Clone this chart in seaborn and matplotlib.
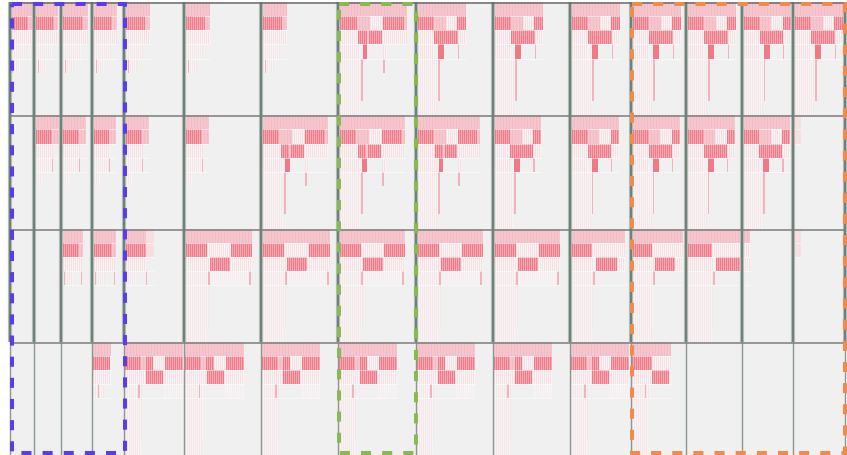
import numpy as np
import matplotlib
matplotlib.use("Agg")
import matplotlib.pyplot as plt
from matplotlib.colors import ListedColormap
from matplotlib.patches import Rectangle
import seaborn as sns

# ---- grid of panels -------------------------------------------------------
col_edges = [10, 34, 61, 92, 124, 184, 261, 338, 416, 493, 570, 631, 686, 742, 793, 845]
row_edges = [3, 116, 230, 343, 456]
LEVELS = 8

# ---- icicles: one per panel (panel row, panel column, span in leaves, shape)
ic_row = [0, 0, 0, 0, 0, 0, 0, 0, 0, 0, 0, 0, 0, 0, 0,
          1, 1, 1, 1, 1, 1, 1, 1, 1, 1, 1, 1, 1, 1,
          2, 2, 2, 2, 2, 2, 2, 2, 2, 2, 2, 2,
          3, 3, 3, 3, 3, 3, 3, 3, 3]
ic_col = [0, 1, 2, 3, 4, 5, 6, 7, 8, 9, 10, 11, 12, 13, 14,
          1, 2, 3, 4, 5, 6, 7, 8, 9, 10, 11, 12, 13, 14,
          2, 3, 4, 5, 6, 7, 8, 9, 10, 11, 12, 14,
          3, 4, 5, 6, 7, 8, 9, 10, 11]
ic_span = [23, 22, 25, 23, 24, 24, 24, 67, 48, 48, 48, 48, 48, 47, 48,
           23, 23, 22, 23, 23, 65, 65, 62, 46, 47, 47, 47, 46, 6,
           20, 22, 28, 66, 67, 65, 65, 65, 53, 50, 62, 6,
           18, 58, 59, 58, 58, 58, 58, 58, 39]
ic_shape = ["S", "S", "S", "S", "S", "S", "S", "AW", "A", "A", "A", "A", "A", "A", "A",
            "S1", "S1", "S1", "S1", "S1", "AW", "AW", "AW", "A", "A", "A", "A", "A", "SL",
            "S2", "S2", "C", "B", "B", "B", "B", "B", "B2", "B2", "B2", "SL",
            "S3", "B3", "B3", "B3", "B3", "B3", "B3", "B3", "B4"]

# per-level segments (start, end as share of the span, fill kind)
SHAPES = {
    "S": [[(0, 1, "L")],
          [(0, 0.8, "R"), (0.8, 1, "L")],
          [(0, 1, "F")],
          [(0, 0.72, "F2")],
          [(0, 0.45, "F2"), (0.08, 0.12, "P")],
          [], [], []],
    "S1": [[(0, 1, "L")],
           [(0, 0.7, "R"), (0.7, 1, "L")],
           [(0, 0.75, "F")],
           [(0, 0.72, "F2"), (0.7, 0.74, "P")],
           [(0, 0.25, "F2")],
           [], [], []],
    "S2": [[(0, 1, "L")],
           [(0, 0.82, "R"), (0.82, 1, "L")],
           [(0, 0.95, "F")],
           [(0.1, 0.5, "F2"), (0.03, 0.08, "P"), (0.9, 0.95, "P")],
           [], [], [], []],
    "S3": [[(0, 1, "L")],
           [(0, 0.95, "R")],
           [(0, 1, "F")],
           [(0, 0.6, "F2"), (0.28, 0.34, "P")],
           [], [], [], []],
    "C": [[(0, 0.72, "L"), (0.72, 1, "Lw")],
          [(0, 0.72, "R"), (0.72, 1, "Lw")],
          [(0, 0.72, "F")],
          [(0, 0.35, "F2"), (0.7, 0.74, "P")],
          [], [], [], []],
    "SL": [[(0, 1, "Lw")],
           [(0, 1, "Lw")],
           [], [], [], [], [], []],
    "A": [[(0, 1, "L")],
          [(0, 0.33, "R"), (0.33, 0.58, "L"), (0.58, 0.82, "F"), (0.82, 1, "R")],
          [(0, 0.33, "F"), (0.33, 0.83, "R"), (0.83, 1, "F")],
          [(0, 0.33, "F"), (0.42, 0.55, "B"), (0.83, 0.86, "P")],
          [(0, 0.42, "F2"), (0.42, 0.45, "P")],
          [(0, 0.42, "F2"), (0.42, 0.45, "P")],
          [(0, 0.42, "F2"), (0.42, 0.45, "P")],
          [(0, 0.4, "F2")]],
    "AW": [[(0, 1, "L")],
           [(0, 0.25, "R"), (0.25, 0.45, "L"), (0.45, 0.64, "F"), (0.64, 0.95, "R"), (0.95, 1, "L")],
           [(0, 0.27, "F"), (0.27, 0.4, "R"), (0.4, 0.43, "L"), (0.43, 0.63, "R"), (0.63, 1, "F")],
           [(0, 0.3, "F"), (0.34, 0.41, "B"), (0.64, 0.7, "F")],
           [(0, 0.32, "F2"), (0.32, 0.35, "P"), (0.64, 0.67, "P")],
           [(0, 0.32, "F2"), (0.32, 0.35, "P")],
           [(0, 0.32, "F2"), (0.32, 0.35, "P")],
           [(0, 0.3, "F2")]],
    "B": [[(0, 1, "L")],
          [(0, 0.32, "R"), (0.32, 0.68, "F"), (0.68, 1, "R")],
          [(0, 0.36, "F"), (0.36, 0.66, "R"), (0.66, 1, "F")],
          [(0, 0.33, "F2"), (0.36, 0.96, "W"), (0.33, 0.36, "P"), (0.96, 0.99, "P")],
          [(0, 0.35, "F2")],
          [(0, 0.35, "F2")],
          [(0, 0.35, "F2")],
          [(0, 0.3, "F2")]],
    "B2": [[(0, 1, "L")],
           [(0, 0.38, "R"), (0.38, 1, "F")],
           [(0, 0.42, "F"), (0.45, 0.85, "R"), (0.85, 1, "F")],
           [(0, 0.4, "F2"), (0.4, 0.43, "P")],
           [(0, 0.4, "F2")],
           [(0, 0.4, "F2")],
           [(0, 0.4, "F2")],
           [(0, 0.38, "F2")]],
    "B3": [[(0, 1, "L")],
           [(0, 0.27, "R"), (0.27, 0.36, "L"), (0.36, 0.49, "R"), (0.49, 0.69, "F"), (0.69, 1, "R")],
           [(0, 0.36, "F"), (0.37, 0.66, "R"), (0.66, 1, "F")],
           [(0, 0.3, "F2"), (0.23, 0.26, "P"), (0.66, 1, "W")],
           [(0, 0.3, "F2")],
           [(0, 0.3, "F2")],
           [(0, 0.3, "F2")],
           [(0, 0.28, "F2")]],
    "B4": [[(0, 1, "L")],
           [(0, 0.5, "R"), (0.5, 1, "F")],
           [(0, 0.5, "F"), (0.5, 0.95, "R")],
           [(0, 0.45, "F2"), (0.34, 0.37, "P")],
           [(0, 0.42, "F2")],
           [(0, 0.42, "F2")],
           [(0, 0.42, "F2")],
           [(0, 0.4, "F2")]],
}

# fill colours (index = code in the matrix)
palette = ["#f0f0f0",  # 0 empty panel
           "#f6c6ce",  # 1 node, light
           "#f3bcc5",  # 2 node, light (edge)
           "#ef7c87",  # 3 hot leaf
           "#f4a9b2",  # 4 hot leaf, softer
           "#f5e0e3",  # 5 faint leaf
           "#f8f4f4",  # 6 faint gap
           "#f4e7e9",  # 7 fainter leaf
           "#ef7984",  # 8 hot block
           "#f3b3bb",  # 9 single pink leaf
           "#f3eeef",  # 10 washed leaf
           "#f8dde1"]  # 11 pale node


def codes(kind, k):
    if kind == "L":
        return 2 if k % 3 == 2 else 1
    if kind == "R":
        return 3 if k % 2 == 0 else 4
    if kind == "F":
        return 5 if k % 2 == 0 else 6
    if kind == "F2":
        return 7 if k % 2 == 0 else 6
    if kind == "B":
        return 8
    if kind == "P":
        return 9
    if kind == "W":
        return 10 if k % 2 == 0 else 6
    return 11


ncols = col_edges[-1] - col_edges[0]
mat = np.zeros((4 * LEVELS, ncols))
extents = []
for r, c, span, shape in zip(ic_row, ic_col, ic_span, ic_shape):
    pad = 1 if r == 3 else 2
    left = col_edges[c] - col_edges[0] + (0 if c == 0 else pad)
    depth = 0
    for lvl, segs in enumerate(SHAPES[shape]):
        if segs:
            depth = lvl + 1
        for f0, f1, kind in segs:
            j0 = left + int(round(f0 * span))
            j1 = max(left + int(round(f1 * span)), j0 + 1)
            for j in range(j0, min(j1, ncols)):
                mat[r * LEVELS + lvl, j] = codes(kind, j - j0)
    extents.append((r, left + col_edges[0], span, depth))

sns.set_theme(style="white")
fig = plt.figure(figsize=(8.47, 4.56), dpi=100)
fig.patch.set_facecolor("white")

W, H = 847, 456
ax = fig.add_axes([col_edges[0] / W, 0, ncols / W, (row_edges[-1] - row_edges[0]) / H])
sns.heatmap(mat, ax=ax, cmap=ListedColormap(palette), vmin=-0.5, vmax=len(palette) - 0.5,
            cbar=False, xticklabels=False, yticklabels=False)
ax.set_xlabel("")
ax.set_ylabel("")

# overlay in pixel coordinates for panel frames and highlight boxes
ov = fig.add_axes([0, 0, 1, 1])
ov.set_xlim(0, W)
ov.set_ylim(H, 0)
ov.axis("off")
ov.patch.set_alpha(0)

# light seams between icicle levels
lvl_h = (row_edges[-1] - row_edges[0]) / (4 * LEVELS)
for r, x0, span, depth in extents:
    ys = [row_edges[0] + (r * LEVELS + k) * lvl_h for k in range(1, min(depth, 4) + 1)]
    ov.hlines(ys, x0, x0 + span, color="white", lw=0.6, alpha=0.6)

for r in range(3):
    y0, y1 = row_edges[r], row_edges[r + 1]
    ov.vlines(col_edges, y0, y1, color="#b5bfba", lw=3.0)
    ov.vlines(col_edges, y0, y1, color="#6f8279", lw=1.5)
ov.vlines(col_edges, row_edges[3], row_edges[4], color="#8b9892", lw=1.0)

ov.hlines(row_edges[0] + 0.5, col_edges[0], col_edges[-1], color="#6a6a6a", lw=1.1)
ov.hlines([y + 0.5 for y in row_edges[1:4]], col_edges[0], col_edges[-1], color="#7c7c7c", lw=1.1)

dash = (0, (2.5, 2.75))
boxes = [(11.5, 124.5, "#5a3de6"), (338.5, 415.5, "#88b952"), (631.5, 844.5, "#ef8c4d")]
for x0, x1, colr in boxes:
    ov.add_patch(Rectangle((x0, 5), x1 - x0, 449.5, fill=False, ec=colr, lw=2.9, ls=dash,
                           zorder=5))

fig.savefig("out.png", dpi=100, facecolor="white")
